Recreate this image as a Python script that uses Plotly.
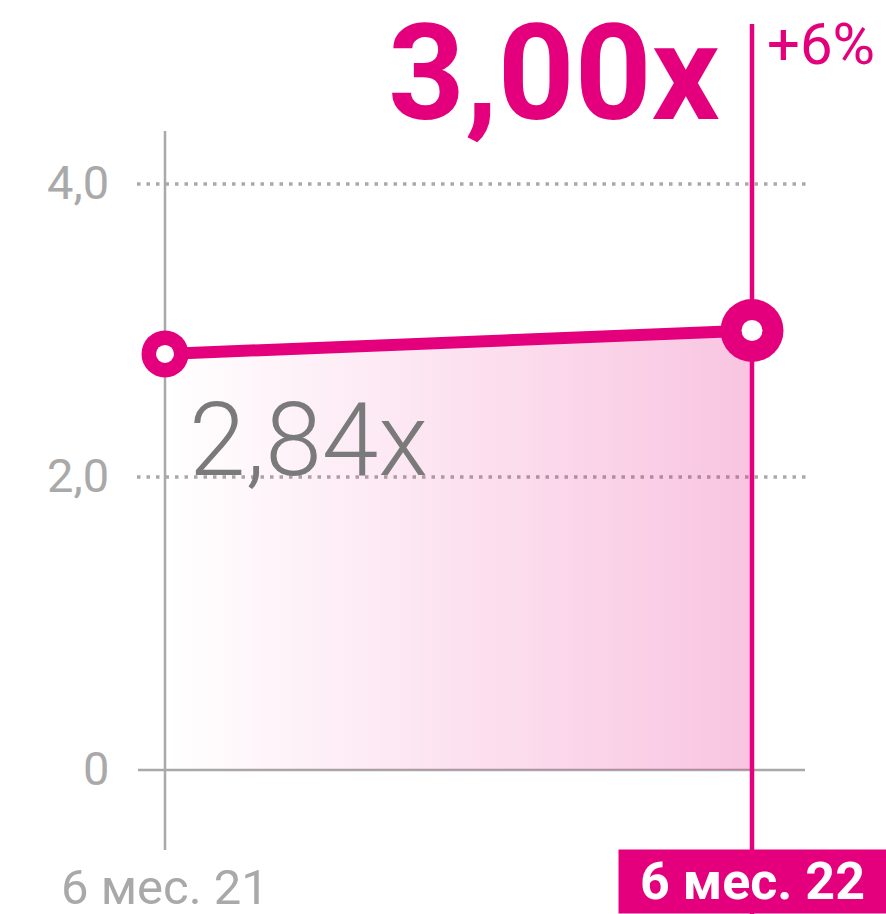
import plotly.graph_objects as go

# ---- data ----
categories = ["6 мес. 21", "6 мес. 22"]
values = [2.84, 3.00]
value_labels = ["2,84x", "3,00x"]
change_label = "+6%"
y_ticks = [0, 2, 4]
y_tick_labels = ["0", "2,0", "4,0"]

MAGENTA = "#E4007C"
GRAY = "#A9A9A9"

W, H = 886, 914
# pixel mapping: x=0 -> 165px, x=1 -> 752px ; y=0 -> 770px, 146.5px per unit
px_per_x = 587.0
px_per_y = 146.5
x0_px, y0_px = 165.0, 770.0
xr = [-x0_px / px_per_x, (W - x0_px) / px_per_x]
yr = [-(H - y0_px) / px_per_y, y0_px / px_per_y]

xs = list(range(len(categories)))

fig = go.Figure()

# area fill with horizontal gradient
fig.add_trace(go.Scatter(
    x=xs, y=values, mode="lines", line=dict(width=0, color=MAGENTA),
    fill="tozeroy",
    fillgradient=dict(type="horizontal",
                      colorscale=[[0, "rgba(228,0,124,0.0)"], [1, "rgba(228,0,124,0.23)"]]),
    hoverinfo="skip", showlegend=False,
))
# main line
fig.add_trace(go.Scatter(
    x=xs, y=values, mode="lines", line=dict(width=12, color=MAGENTA),
    hoverinfo="skip", showlegend=False,
))
# markers: outer magenta disc + inner white hole
fig.add_trace(go.Scatter(
    x=xs, y=values, mode="markers",
    marker=dict(size=[47, 63], color=MAGENTA, opacity=1, line=dict(width=0)),
    hoverinfo="skip", showlegend=False,
))
fig.add_trace(go.Scatter(
    x=xs, y=values, mode="markers",
    marker=dict(size=[18, 21], color="white", opacity=1, line=dict(width=0)),
    hoverinfo="skip", showlegend=False,
))

shapes = []
# dotted gridlines
gx0 = xs[0] - 28 / px_per_x
gx1 = xs[-1] + 56 / px_per_x
for t in y_ticks[1:]:
    shapes.append(dict(type="line", xref="x", yref="y", x0=gx0, x1=gx1, y0=t, y1=t,
                       line=dict(color=GRAY, width=3.5, dash="3.5px,6px"), layer="below"))
# zero line
shapes.append(dict(type="line", xref="x", yref="y", x0=xs[0] - 27 / px_per_x, x1=xs[-1] + 53 / px_per_x,
                   y0=0, y1=0, line=dict(color=GRAY, width=2.5), layer="below"))
# left vertical axis line
shapes.append(dict(type="line", xref="x", yref="y", x0=xs[0], x1=xs[0],
                   y0=-80 / px_per_y, y1=639 / px_per_y,
                   line=dict(color=GRAY, width=2.5), layer="below"))
# right magenta marker line
shapes.append(dict(type="line", xref="x", yref="y", x0=xs[-1], x1=xs[-1],
                   y0=yr[0], y1=746 / px_per_y,
                   line=dict(color=MAGENTA, width=4.5), layer="below"))

annotations = []
# y tick labels
for t, lab in zip(y_ticks, y_tick_labels):
    annotations.append(dict(x=xs[0], y=t, xref="x", yref="y", text=lab, showarrow=False,
                            xanchor="right", yanchor="middle", xshift=-54, yshift=2,
                            font=dict(family="Roboto", size=47, color=GRAY)))
# first category label
annotations.append(dict(x=xs[0], y=0, xref="x", yref="paper", text=categories[0], showarrow=False,
                        xanchor="center", yanchor="bottom", yshift=-4,
                        font=dict(family="Roboto", size=49, color=GRAY)))
# last category label (highlighted box)
annotations.append(dict(x=xs[-1], y=0, xref="x", yref="paper", text="<b>" + categories[-1] + "</b>",
                        showarrow=False, xanchor="center", yanchor="bottom",
                        width=265, height=61, bgcolor=MAGENTA, borderpad=1, valign="bottom",
                        font=dict(family="Roboto", size=52, color="white")))
# value label first point
annotations.append(dict(x=xs[0], y=values[0], xref="x", yref="y", text=value_labels[0], showarrow=False,
                        xanchor="left", yanchor="middle", xshift=22, yshift=-86,
                        font=dict(family="Roboto", size=102, color="#7A7A7A", weight=300)))
# value label last point (big)
annotations.append(dict(x=xs[-1], y=yr[1], xref="x", yref="y", text="<b>" + value_labels[1] + "</b>",
                        showarrow=False, xanchor="right", yanchor="middle", xshift=-30, yshift=-73,
                        font=dict(family="Roboto", size=134, color=MAGENTA, weight=900)))
# change label
annotations.append(dict(x=xs[-1], y=yr[1], xref="x", yref="y", text=change_label, showarrow=False,
                        xanchor="left", yanchor="middle", xshift=13, yshift=-44,
                        font=dict(family="Roboto", size=58, color=MAGENTA)))

fig.update_layout(
    width=W, height=H,
    margin=dict(l=0, r=0, t=0, b=0),
    paper_bgcolor="white", plot_bgcolor="white",
    xaxis=dict(range=xr, visible=False, fixedrange=True),
    yaxis=dict(range=yr, visible=False, fixedrange=True),
    shapes=shapes, annotations=annotations, showlegend=False,
)

fig.write_html("out.html", config={"displayModeBar": False},
               post_script="document.body.style.margin='0';document.body.style.overflow='hidden';")
